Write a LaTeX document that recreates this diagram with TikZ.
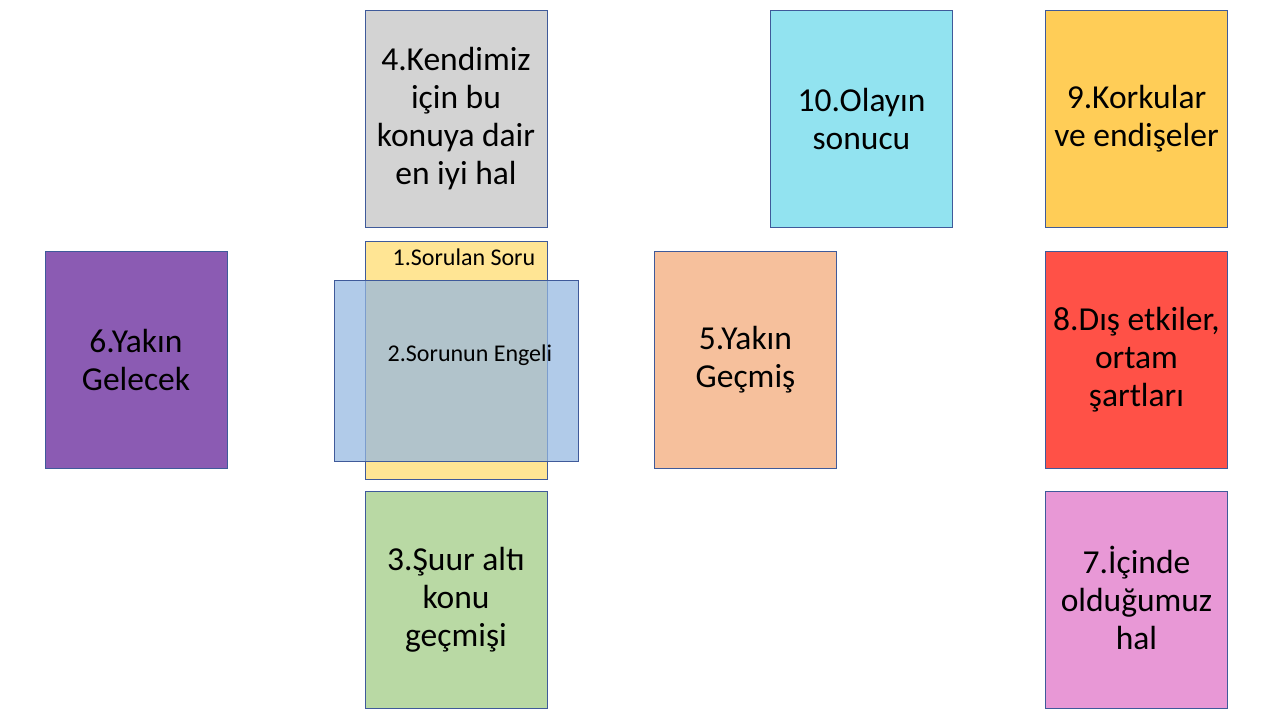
\documentclass[tikz,border=0pt]{standalone}
\usepackage{fontspec}
\setmainfont{Carlito}
\definecolor{bord}{HTML}{3F5A9A}
\definecolor{cgray}{HTML}{D3D3D3}
\definecolor{ccyan}{HTML}{92E3F0}
\definecolor{corange}{HTML}{FFCD57}
\definecolor{cpurple}{HTML}{8B5BB3}
\definecolor{cyellow}{HTML}{FFE594}
\definecolor{cblue}{HTML}{94B7E1}
\definecolor{cpeach}{HTML}{F6C09C}
\definecolor{cred}{HTML}{FF5147}
\definecolor{cgreen}{HTML}{B9D9A4}
\definecolor{cpink}{HTML}{E898D6}
\tikzset{
  card/.style={draw=bord, line width=0.9pt, rectangle, inner sep=0pt,
    minimum width=182pt, minimum height=217pt, align=center,
    font=\fontsize{33.5}{38}\selectfont},
  small/.style={inner sep=0pt, font=\fontsize{24}{28}\selectfont}
}
\begin{document}
\begin{tikzpicture}[x=1pt,y=-1pt]
\useasboundingbox[fill=white] (0,0) rectangle (1280,721);
\node[card, fill=cgray] (n4) at (456,118.5) {4.Kendimiz\\için bu\\konuya dair\\en iyi hal};
\node[card, fill=ccyan] (n10) at (861.5,118.5) {10.Olayın\\sonucu};
\node[card, fill=corange] (n9) at (1136.5,118.5) {9.Korkular\\ve endişeler};
\node[card, fill=cpurple] (n6) at (136,359.5) {6.Yakın\\Gelecek};
\node[card, fill=cyellow, minimum height=238pt] (n1) at (456,360) {};
\node[card, fill=cblue, fill opacity=0.72, minimum width=244pt, minimum height=181pt] (n2) at (456,370.5) {};
\node[small, anchor=base] (t1) at (464,265) {1.Sorulan Soru};
\node[small, anchor=base] (t2) at (470,361) {2.Sorunun Engeli};
\node[card, fill=cpeach] (n5) at (745.5,359.5) {5.Yakın\\Geçmiş};
\node[card, fill=cred] (n8) at (1136.5,359.5) {8.Dış etkiler,\\ortam\\şartları};
\node[card, fill=cgreen] (n3) at (456,599.5) {3.\smash{Ş}uur altı\\konu\\geçmişi};
\node[card, fill=cpink] (n7) at (1136.5,599.5) {7.\smash{İ}çinde\\olduğumuz\\hal};
\end{tikzpicture}
\end{document}
